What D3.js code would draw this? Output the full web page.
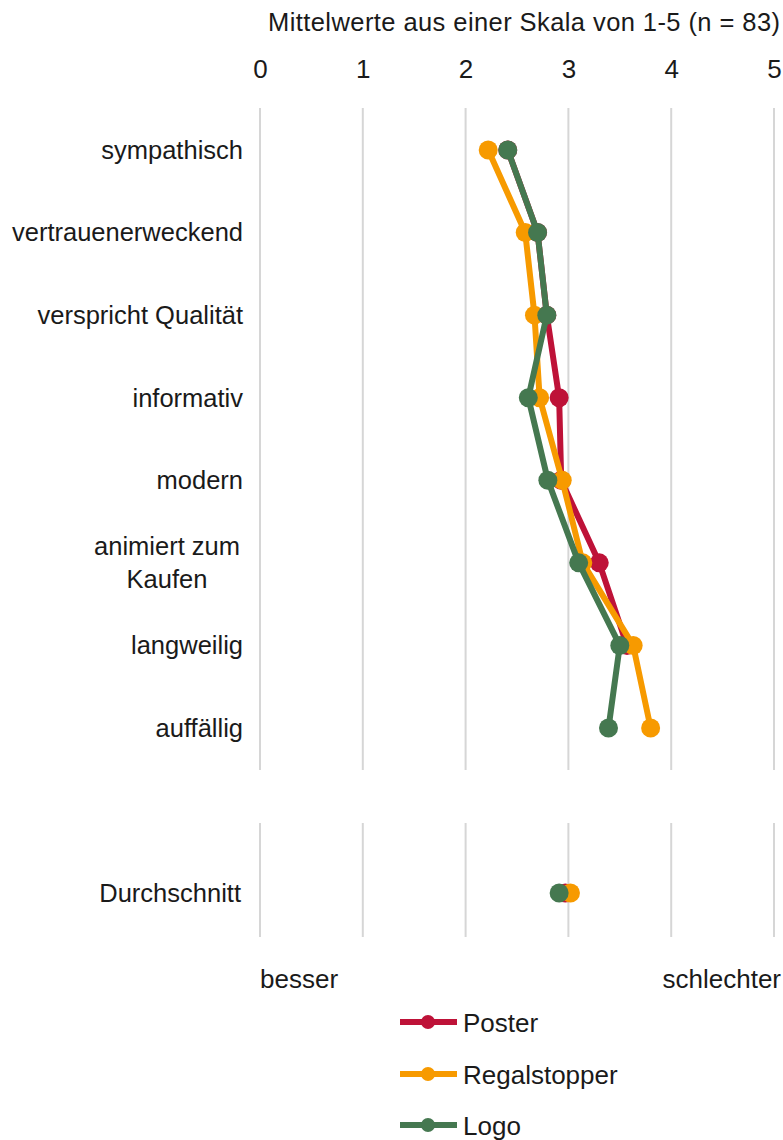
<!DOCTYPE html>
<html>
<head>
<meta charset="utf-8">
<script src="https://cdn.jsdelivr.net/npm/d3@7/dist/d3.min.js"></script>
<style>
  html, body { margin: 0; padding: 0; background: #fff; }
  svg { display: block; font-family: "Liberation Sans", Arial, sans-serif; }
</style>
</head>
<body>
<svg id="chart" width="783" height="1140"></svg>
<script>
// Attribute ratings (means on a 1-5 scale, lower = better)
const categories = [
  "sympathisch",
  "vertrauenerweckend",
  "verspricht Qualität",
  "informativ",
  "modern",
  "animiert zum Kaufen",
  "langweilig",
  "auffällig"
];
const seriesNames = ["Poster", "Regalstopper", "Logo"];
const poster       = [2.41, 2.70, 2.79, 2.91, 2.93, 3.30, 3.57, null];
const regalstopper = [2.22, 2.58, 2.67, 2.72, 2.94, 3.14, 3.63, 3.80];
const logo         = [2.41, 2.70, 2.79, 2.61, 2.80, 3.10, 3.50, 3.39];

// Overall averages
const averageLabel = "Durchschnitt";
const averages = [2.97, 3.02, 2.91];

const tickValues = [0, 1, 2, 3, 4, 5];
const colors = ["#BE1238", "#F79A00", "#457850"];

const svg = d3.select("#chart");

const x = d3.scaleLinear().domain([0, 5]).range([260, 774]);
const y = d3.scalePoint().domain(categories).range([150, 728]);
const yAvg = d3.scalePoint().domain([averageLabel]).range([893, 893]);

// Title
svg.append("text")
  .attr("x", 268).attr("y", 31)
  .attr("font-size", 25.5)
  .attr("textLength", 512)
  .attr("lengthAdjust", "spacing")
  .attr("fill", "#1a1a1a")
  .text("Mittelwerte aus einer Skala von 1-5 (n = 83)");

// Top axis labels
const axis = d3.axisTop(x).tickValues(tickValues).tickSize(0).tickPadding(0)
  .tickFormat(d3.format("d"));
const axisG = svg.append("g").attr("transform", "translate(0,78)").call(axis);
axisG.select(".domain").remove();
axisG.selectAll("text")
  .attr("font-size", 26)
  .attr("font-family", "'Liberation Sans', Arial, sans-serif")
  .attr("fill", "#1a1a1a");

// Gridlines: main panel and average panel
const panels = [[108, 770], [823, 937]];
panels.forEach(([y0, y1]) => {
  svg.append("g").selectAll("line")
    .data(tickValues).join("line")
    .attr("x1", d => x(d)).attr("x2", d => x(d))
    .attr("y1", y0).attr("y2", y1)
    .attr("stroke", "#d6d6d6").attr("stroke-width", 2);
});

// Category labels
const labelG = svg.append("g").attr("font-size", 25.5).attr("fill", "#1a1a1a");
categories.forEach(c => {
  const words = c === "animiert zum Kaufen" ? ["animiert zum", "Kaufen"] : [c];
  if (words.length === 1) {
    labelG.append("text")
      .attr("x", 243).attr("y", y(c)).attr("dy", "0.35em")
      .attr("text-anchor", "end").text(c);
  } else {
    const t = labelG.append("text").attr("text-anchor", "middle");
    words.forEach((w, i) => {
      t.append("tspan")
        .attr("x", 167)
        .attr("y", y(c) + (i - 0.5) * 33)
        .attr("dy", "0.35em")
        .text(w);
    });
  }
});
labelG.append("text")
  .attr("x", 241).attr("y", yAvg(averageLabel)).attr("dy", "0.35em")
  .attr("text-anchor", "end").text(averageLabel);

// Series lines and markers
const seriesData = [poster, regalstopper, logo];
const line = d3.line()
  .defined(d => d.v != null)
  .x(d => x(d.v))
  .y(d => y(d.c));

seriesData.forEach((vals, si) => {
  const pts = categories.map((c, i) => ({ c, v: vals[i] }));
  const g = svg.append("g");
  g.append("path")
    .datum(pts)
    .attr("d", line)
    .attr("fill", "none")
    .attr("stroke", colors[si])
    .attr("stroke-width", 6)
    .attr("stroke-linejoin", "round");
  g.selectAll("circle")
    .data(pts.filter(d => d.v != null)).join("circle")
    .attr("cx", d => x(d.v)).attr("cy", d => y(d.c))
    .attr("r", 9.5)
    .attr("fill", colors[si]);
});

// Average markers
svg.append("g").selectAll("circle")
  .data(averages).join("circle")
  .attr("cx", d => x(d)).attr("cy", yAvg(averageLabel))
  .attr("r", 9.5)
  .attr("fill", (d, i) => colors[i]);

// Direction labels
svg.append("text").attr("x", 260).attr("y", 988)
  .attr("font-size", 26).attr("fill", "#1a1a1a").text("besser");
svg.append("text").attr("x", 781).attr("y", 988)
  .attr("text-anchor", "end")
  .attr("font-size", 26).attr("fill", "#1a1a1a").text("schlechter");

// Legend
const legendY = [1022, 1074, 1125];
const legend = svg.append("g");
seriesNames.forEach((name, i) => {
  const g = legend.append("g").attr("transform", `translate(0,${legendY[i]})`);
  g.append("line").attr("x1", 400).attr("x2", 457).attr("y1", 0).attr("y2", 0)
    .attr("stroke", colors[i]).attr("stroke-width", 6);
  g.append("circle").attr("cx", 428).attr("cy", 0).attr("r", 7)
    .attr("fill", colors[i]);
  g.append("text").attr("x", 463).attr("y", 0).attr("dy", "0.38em")
    .attr("font-size", 26).attr("fill", "#1a1a1a").text(name);
});
</script>
</body>
</html>
